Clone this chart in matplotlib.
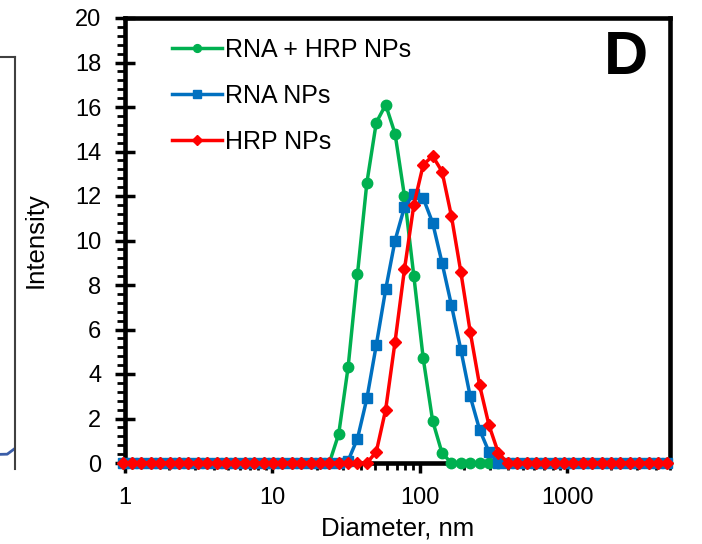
import matplotlib
matplotlib.use('Agg')
import matplotlib.pyplot as plt
import numpy as np
from matplotlib.ticker import FixedLocator, NullFormatter

plt.rcParams['font.family'] = ['Liberation Sans', 'DejaVu Sans']

# size bins (nm)
diameter = [0.9649, 1.117, 1.294, 1.499, 1.736, 2.010, 2.328, 2.696, 3.122, 3.615,
            4.187, 4.849, 5.615, 6.503, 7.531, 8.721, 10.10, 11.70, 13.54, 15.69,
            18.17, 21.04, 24.36, 28.21, 32.67, 37.84, 43.82, 50.75, 58.77, 68.06,
            78.82, 91.28, 105.7, 122.4, 141.8, 164.2, 190.1, 220.2, 255.0, 295.3,
            342.0, 396.1, 458.7, 531.2, 615.1, 712.4, 825.0, 955.4, 1106, 1281,
            1484, 1718, 1990, 2305, 2669, 3091, 3580, 4145, 4801]

# nonzero intensities, keyed by bin size
rna_hrp_peak = {28.21: 1.3, 32.67: 4.3, 37.84: 8.5, 43.82: 12.6, 50.75: 15.3,
                58.77: 16.1, 68.06: 14.8, 78.82: 12.0, 91.28: 8.4, 105.7: 4.7,
                122.4: 1.9, 141.8: 0.45}
rna_peak = {32.67: 0.1, 37.84: 1.1, 43.82: 2.9, 50.75: 5.3, 58.77: 7.8, 68.06: 10.0,
            78.82: 11.5, 91.28: 12.1, 105.7: 11.9, 122.4: 10.8, 141.8: 9.0,
            164.2: 7.1, 190.1: 5.1, 220.2: 3.0, 255.0: 1.5, 295.3: 0.5}
hrp_peak = {50.75: 0.5, 58.77: 2.4, 68.06: 5.45, 78.82: 8.7, 91.28: 11.6,
            105.7: 13.4, 122.4: 13.8, 141.8: 13.1, 164.2: 11.1, 190.1: 8.6,
            220.2: 5.9, 255.0: 3.5, 295.3: 1.7, 342.0: 0.45}

rna_hrp = [rna_hrp_peak.get(d, 0) for d in diameter]
rna = [rna_peak.get(d, 0) for d in diameter]
hrp = [hrp_peak.get(d, 0) for d in diameter]

fig = plt.figure(figsize=(7.02, 5.44), dpi=100)
ax = fig.add_axes([125 / 702, 81 / 544, 545 / 702, 445 / 544])

ax.plot(diameter, rna_hrp, color='#00B050', marker='o', ms=7.5, lw=2.5,
        label='RNA + HRP NPs', clip_on=False, zorder=5)
ax.plot(diameter, rna, color='#0070C0', marker='s', ms=7.5, lw=2.5,
        label='RNA NPs', clip_on=False, zorder=6)
ax.plot(diameter, hrp, color='#FF0000', marker='D', ms=6.5, lw=2.5,
        label='HRP NPs', clip_on=False, zorder=7)

ax.set_xscale('log')
ax.set_xlim(1, 5000)
ax.set_ylim(0, 20)
ax.set_yticks(np.arange(0, 21, 2))
ax.yaxis.set_minor_locator(FixedLocator(np.arange(0, 20.01, 0.4)))
ax.set_xticks([1, 10, 100, 1000])
ax.set_xticklabels(['1', '10', '100', '1000'])
ax.xaxis.set_minor_formatter(NullFormatter())

for s in ax.spines.values():
    s.set_linewidth(3.3)
ax.tick_params(axis='y', which='major', direction='inout', length=14, width=2.5,
               labelsize=17, pad=10)
ax.tick_params(axis='y', which='minor', direction='out', length=6, width=2)
ax.tick_params(axis='x', which='major', direction='out', length=7, width=2.5,
               labelsize=17, pad=10)
ax.tick_params(axis='x', which='minor', direction='out', length=5, width=2)

ax.set_xlabel('Diameter, nm', fontsize=18.5, labelpad=6)
ax.set_ylabel('Intensity', fontsize=18.5, labelpad=20)

ax.legend(loc='upper left', bbox_to_anchor=(0.055, 0.995), frameon=False, fontsize=18,
          handlelength=2.0, handletextpad=0.12, labelspacing=0.88, borderaxespad=0.3,
          markerscale=0.75)

ax.text(0.92, 0.91, 'D', transform=ax.transAxes, fontsize=44, fontweight='bold',
        ha='center', va='center')

# edge of the neighbouring panel
ax2 = fig.add_axes([-0.2, 75 / 544, 0.2 + 15 / 702, 412 / 544])
for side in ['left', 'bottom']:
    ax2.spines[side].set_visible(False)
ax2.spines['right'].set_color('#404040')
ax2.spines['top'].set_color('#404040')
ax2.spines['right'].set_linewidth(1.5)
ax2.spines['top'].set_linewidth(1.5)
ax2.set_xticks([])
ax2.set_yticks([])
ax2.set_xlim(0, 1)
ax2.set_ylim(0, 1)
ax2.plot([0.85, 0.95, 1.0], [0.035, 0.036, 0.05], color='#3A5DA8', lw=2)

fig.savefig('out.png', dpi=100)
